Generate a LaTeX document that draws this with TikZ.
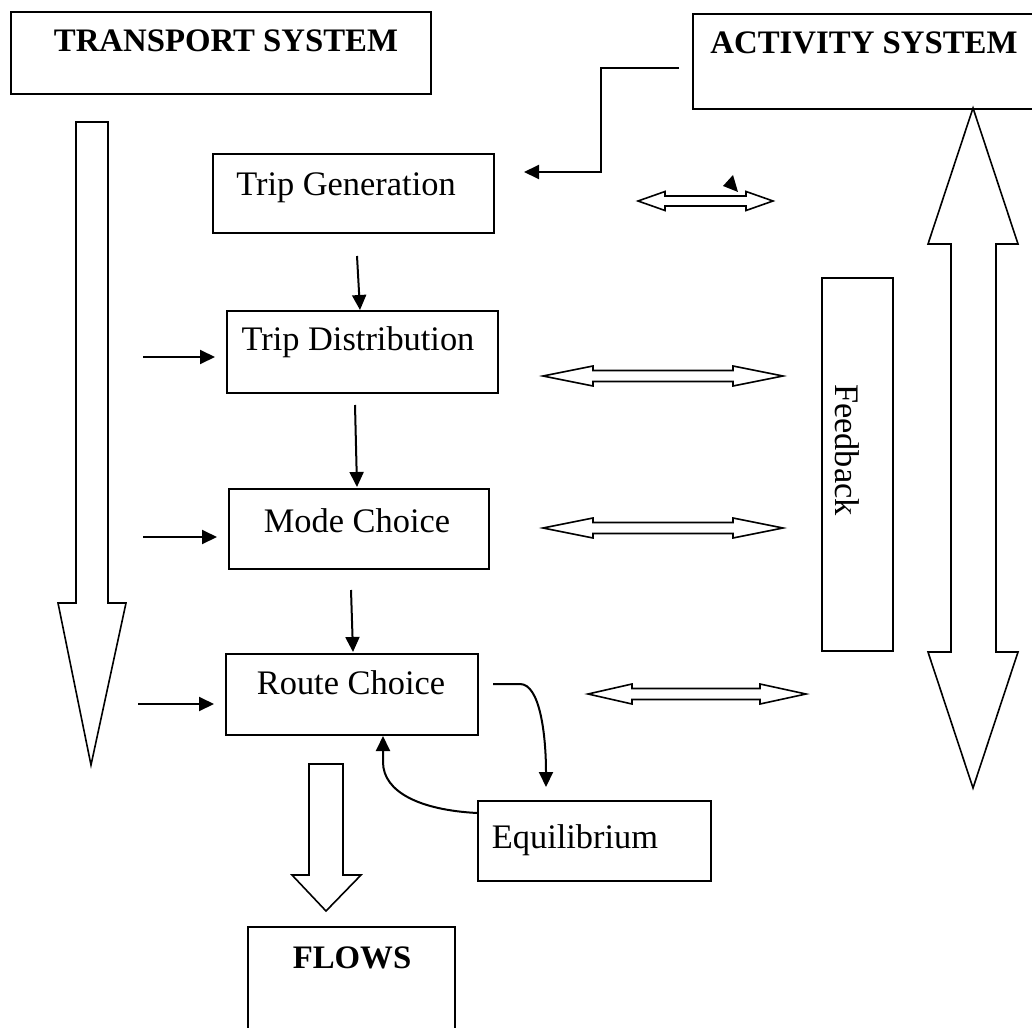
\documentclass[tikz,border=0pt]{standalone}
\usepackage{fontspec}
\setmainfont{Liberation Serif}
\usetikzlibrary{arrows.meta}
\begin{document}
\begin{tikzpicture}[x=0.5pt,y=-0.5pt,
  box/.style={draw,line width=1pt,rectangle,inner sep=0pt,anchor=north west},
  txt/.style={inner sep=0pt,anchor=base,font=\fontsize{17.2}{20}\selectfont},
  btxt/.style={inner sep=0pt,anchor=base,font=\fontsize{16.4}{19}\selectfont\bfseries},
  conn/.style={line width=1pt,-{Triangle[length=7.5pt,width=7pt]}},
  hollow/.style={draw,line width=0.8pt,fill=white,line join=miter}]
\useasboundingbox (0,0) rectangle (1032,1027);

% boxes
\node[box,minimum width=210pt,minimum height=41pt] (ts) at (10,11) {};
\node[btxt] (tstext) at (226,52) {TRANSPORT SYSTEM};

\node[draw=none,inner sep=0pt,anchor=north west,minimum width=169.5pt,minimum height=47pt] (as) at (693,14) {};
\draw[line width=1pt] (as.north east) -- (as.north west) -- (as.south west) -- (as.south east);
\node[btxt] (astext) at (864,54) {ACTIVITY SYSTEM};

\node[box,minimum width=140.5pt,minimum height=39.5pt] (tg) at (212,153) {};
\node[txt] (tgt) at (346,196) {Trip Generation};

\node[box,minimum width=135.5pt,minimum height=41pt] (td) at (226,310) {};
\node[txt] (tdt) at (358,350) {Trip Distribution};

\node[box,minimum width=130pt,minimum height=40pt] (mc) at (228,488) {};
\node[txt] (mct) at (357,532) {Mode Choice};

\node[box,minimum width=126pt,minimum height=40.5pt] (rc) at (225,653) {};
\node[txt] (rct) at (351,694) {Route Choice};

\node[box,minimum width=116.5pt,minimum height=40pt] (eq) at (477,800) {};
\node[txt] (eqt) at (575,848) {Equilibrium};

\node[draw=none,inner sep=0pt,anchor=north west,minimum width=103pt,minimum height=50pt] (fl) at (248,927) {};
\draw[line width=1pt] (fl.south west) -- (fl.north west) -- (fl.north east) -- (fl.south east);
\node[btxt] (flt) at (352,968) {FLOWS};

\node[box,minimum width=35.5pt,minimum height=186.5pt] (fb) at (821,277) {};
\node[txt,anchor=center,rotate=-90] (fbt) at (847,450) {Feedback};

% big hollow arrows
\draw[hollow] (76,122) -- (108,122) -- (108,603) -- (126,603) -- (91,765) -- (58,603) -- (76,603) -- cycle;
\draw[hollow] (973,108) -- (1018,244) -- (996,244) -- (996,652) -- (1018,652) -- (973,788) -- (928,652) -- (951,652) -- (951,244) -- (928,244) -- cycle;
\draw[hollow] (309,764) -- (343,764) -- (343,875) -- (361,875) -- (326,911) -- (292,875) -- (309,875) -- cycle;

% small hollow double arrows
\draw[hollow] (638,201) -- (665,191.5) -- (665,196) -- (746,196) -- (746,191.5) -- (773,201) -- (746,210.5) -- (746,206) -- (665,206) -- (665,210.5) -- cycle;
\fill (723,186) -- (733,175) -- (738,192) -- cycle;
\foreach \yy in {376,528}{
\draw[hollow] (543,\yy) -- (593,\yy-10) -- (593,\yy-5.5) -- (733,\yy-5.5) -- (733,\yy-10) -- (783,\yy) -- (733,\yy+10) -- (733,\yy+5.5) -- (593,\yy+5.5) -- (593,\yy+10) -- cycle;}
\draw[hollow] (588,694) -- (632,684) -- (632,688.5) -- (760,688.5) -- (760,684) -- (806,694) -- (760,704) -- (760,699.5) -- (632,699.5) -- (632,704) -- cycle;

% connectors
\coordinate (asout) at (679,68);
\coordinate (tgin) at (524,172);
\draw[conn] (asout) -- (601,68) -- (601,172) -- (tgin);

\coordinate (tgout) at (357,256);
\draw[conn] (tgout) -- (td.north -| 360,0);
\coordinate (tdout) at (355,405);
\draw[conn] (tdout) -- (357,487);
\coordinate (mcout) at (351,590);
\draw[conn] (mcout) -- (353,652);

\coordinate (l1) at (143,357);
\draw[conn] (l1) -- (215,357);
\coordinate (l2) at (143,537);
\draw[conn] (l2) -- (217,537);
\coordinate (l3) at (138,704);
\draw[conn] (l3) -- (214,704);

\coordinate (rcout) at (493,684);
\coordinate (eqin) at (546,787);
\draw[conn] (rcout) -- (520,684) .. controls (540,684) and (546,735) .. (eqin);
\draw[conn] (eq.west |- 0,813) .. controls (420,810) and (383,792) .. (383,762) -- (rc.south -| 383,0);
\end{tikzpicture}
\end{document}
